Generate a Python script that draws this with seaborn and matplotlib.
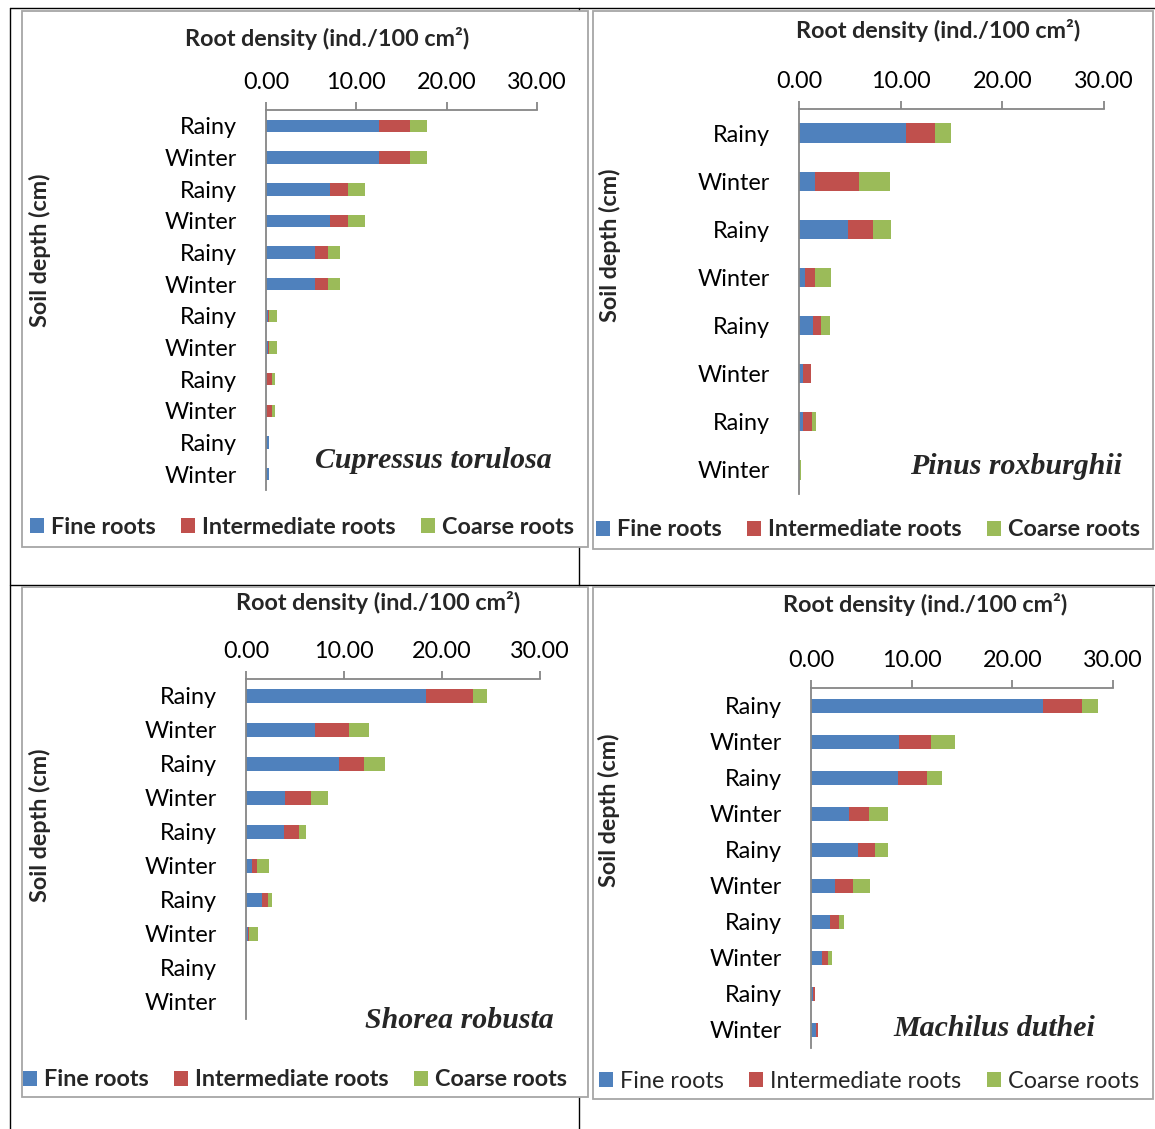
import numpy as np
import pandas as pd
import seaborn as sns
import matplotlib.pyplot as plt
from matplotlib.patches import Rectangle, Patch
from matplotlib.lines import Line2D
from matplotlib.ticker import FormatStrFormatter

sns.set_style("white")
plt.rcParams["font.family"] = ["Lato", "DejaVu Sans"]

# ---- data (top row first) ----
cupressus_season = ["Rainy", "Winter"] * 6
cupressus_fine = [12.5, 12.5, 7.1, 7.1, 5.4, 5.4, 0.25, 0.25, 0.03, 0.03, 0.3, 0.3]
cupressus_inter = [3.4, 3.4, 2.0, 2.0, 1.5, 1.5, 0.05, 0.05, 0.65, 0.65, 0.02, 0.02]
cupressus_coarse = [1.9, 1.9, 1.9, 1.9, 1.3, 1.3, 0.9, 0.9, 0.3, 0.3, 0.0, 0.0]

pinus_season = ["Rainy", "Winter"] * 4
pinus_fine = [10.5, 1.6, 4.8, 0.6, 1.4, 0.4, 0.4, 0.0]
pinus_inter = [2.9, 4.3, 2.5, 0.95, 0.75, 0.75, 0.85, 0.0]
pinus_coarse = [1.55, 3.05, 1.75, 1.55, 0.85, 0.0, 0.4, 0.2]

shorea_season = ["Rainy", "Winter"] * 5
shorea_fine = [18.4, 7.05, 9.5, 4.0, 3.85, 0.6, 1.6, 0.17, 0.0, 0.0]
shorea_inter = [4.8, 3.45, 2.55, 2.65, 1.55, 0.55, 0.65, 0.13, 0.0, 0.0]
shorea_coarse = [1.4, 2.05, 2.15, 1.75, 0.7, 1.2, 0.4, 0.9, 0.0, 0.0]

machilus_season = ["Rainy", "Winter"] * 5
machilus_fine = [23.0, 8.7, 8.65, 3.8, 4.7, 2.4, 1.85, 1.05, 0.15, 0.45]
machilus_inter = [3.9, 3.2, 2.85, 2.0, 1.65, 1.8, 0.95, 0.6, 0.2, 0.2]
machilus_coarse = [1.6, 2.4, 1.5, 1.85, 1.3, 1.65, 0.5, 0.45, 0.0, 0.0]

root_types = ["Fine roots", "Intermediate roots", "Coarse roots"]
x_ticks = [0, 10, 20, 30]

colors = {"fine": "#4F81BD", "inter": "#C0504D", "coarse": "#9BBB59"}
axis_grey = "#868686"
fs = 16.8

W, H = 1155, 1129
fig = plt.figure(figsize=(W / 100, H / 100), dpi=100)
fig.patch.set_facecolor("white")


def px_axes(x0, y0, x1, y1):
    return fig.add_axes([x0 / W, 1 - y1 / H, (x1 - x0) / W, (y1 - y0) / H])


def fx(x):
    return x / W


def fy(y):
    return 1 - y / H


# page grid lines (black) and chart frames (grey)
for xs, ys in [((10, 10), (8, 1129)), ((10, 1155), (8, 8)),
               ((10, 1155), (585, 585)), ((579, 579), (8, 1129))]:
    fig.add_artist(Line2D([fx(v) for v in xs], [fy(v) for v in ys],
                          color="black", lw=1.0, zorder=-3))
for x0, y0, x1, y1 in [(22, 11, 588, 547), (593, 11, 1153, 549),
                       (22, 587, 588, 1097), (593, 587, 1153, 1099)]:
    fig.add_artist(Rectangle((fx(x0), fy(y1)), fx(x1 - x0), (y1 - y0) / H,
                             facecolor="white", edgecolor="#A6A6A6", lw=1.3,
                             zorder=-2))

panels = [
    dict(season=cupressus_season, fine=cupressus_fine, inter=cupressus_inter,
         coarse=cupressus_coarse, name="Cupressus torulosa",
         box=(266, 110, 537, 490), xlab=(327, 38), ylab=(40, 250),
         sp=(433, 460), leg=(302, 527), bold_leg=True),
    dict(season=pinus_season, fine=pinus_fine, inter=pinus_inter,
         coarse=pinus_coarse, name="Pinus roxburghii",
         box=(799, 109, 1104, 494), xlab=(938, 30), ylab=(610, 245),
         sp=(1016, 467), leg=(868, 530), bold_leg=True),
    dict(season=shorea_season, fine=shorea_fine, inter=shorea_inter,
         coarse=shorea_coarse, name="Shorea robusta",
         box=(246, 679, 540, 1019), xlab=(378, 603), ylab=(40, 825),
         sp=(459, 1021), leg=(295, 1080), bold_leg=True),
    dict(season=machilus_season, fine=machilus_fine, inter=machilus_inter,
         coarse=machilus_coarse, name="Machilus duthei",
         box=(811, 688, 1113, 1048), xlab=(925, 605), ylab=(609, 810),
         sp=(994, 1029), leg=(869, 1081), bold_leg=False),
]

for p in panels:
    n = len(p["season"])
    df = pd.DataFrame({
        "row": [f"r{i}" for i in range(n)],
        "fine": p["fine"], "inter": p["inter"], "coarse": p["coarse"],
    })
    df["c1"] = df["fine"]
    df["c2"] = df["fine"] + df["inter"]
    df["c3"] = df["c2"] + df["coarse"]

    ax = px_axes(*p["box"])
    ax.set_facecolor("none")
    for col, key in [("c3", "coarse"), ("c2", "inter"), ("c1", "fine")]:
        sns.barplot(data=df, x=col, y="row", order=df["row"], orient="h",
                    color=colors[key], saturation=1, width=0.4,
                    linewidth=0, errorbar=None, ax=ax)

    ax.set_xlim(0, 30)
    ax.set_ylim(n - 0.5, -0.5)
    ax.set_xticks(x_ticks)
    ax.xaxis.set_major_formatter(FormatStrFormatter("%.2f"))
    ax.xaxis.tick_top()
    ax.set_yticks(np.arange(n + 1) - 0.5)
    ax.set_yticklabels([])
    ax.set_yticks(np.arange(n), minor=True)
    ax.set_yticklabels(p["season"], minor=True)
    ax.set_xlabel("")
    ax.set_ylabel("")
    for s in ["right", "bottom"]:
        ax.spines[s].set_visible(False)
    for s in ["top", "left"]:
        ax.spines[s].set_color(axis_grey)
        ax.spines[s].set_linewidth(1.3)
    ax.tick_params(axis="x", which="major", direction="out", length=6,
                   width=1.3, color=axis_grey, labelsize=fs, pad=6,
                   labelcolor="black")
    ax.tick_params(axis="y", which="major", direction="out", length=6,
                   width=1.3, color=axis_grey)
    ax.tick_params(axis="y", which="minor", length=0, labelsize=fs, pad=21,
                   labelcolor="black")

    fig.text(fx(p["xlab"][0]), fy(p["xlab"][1]), "Root density (ind./100 cm²)",
             ha="center", va="center", fontsize=fs, fontweight="bold")
    fig.text(fx(p["ylab"][0]), fy(p["ylab"][1]), "Soil depth (cm)",
             ha="center", va="center", rotation=90, fontsize=fs,
             fontweight="bold")
    fig.text(fx(p["sp"][0]), fy(p["sp"][1]), p["name"], ha="center",
             va="center", fontsize=21.5, fontweight="bold", fontstyle="italic",
             family="Liberation Serif")

    handles = [Patch(facecolor=colors[k], edgecolor="none")
               for k in ["fine", "inter", "coarse"]]
    fig.legend(handles, root_types, loc="center", ncol=3, frameon=False,
               bbox_to_anchor=(fx(p["leg"][0]), fy(p["leg"][1])),
               prop=dict(size=fs, weight="bold" if p["bold_leg"] else "normal"),
               handlelength=0.6, handleheight=0.6, handletextpad=0.3,
               columnspacing=1.1, borderpad=0, borderaxespad=0)

fig.savefig("out.png", dpi=100)
